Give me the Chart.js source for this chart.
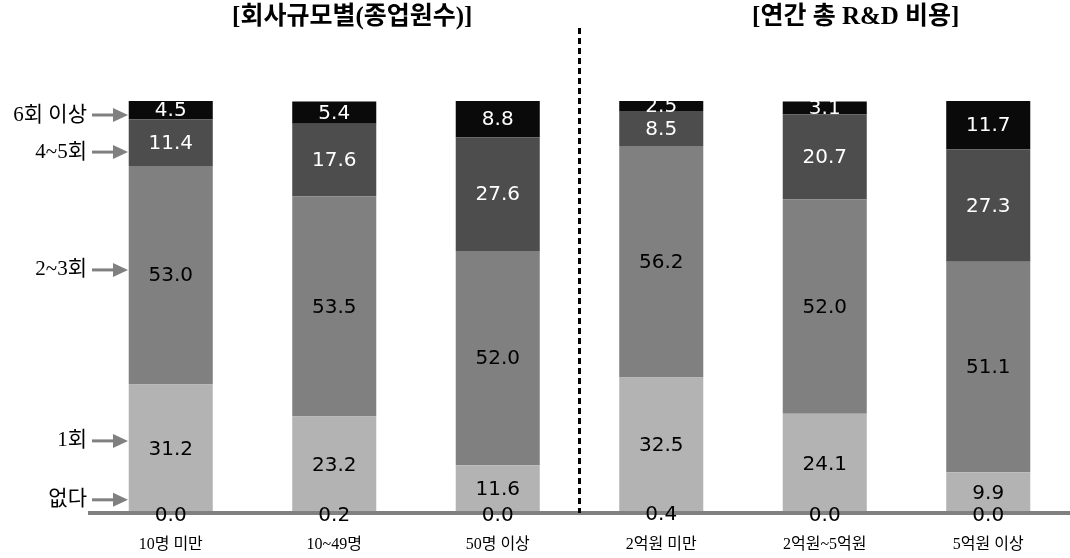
<!DOCTYPE html>
<html>
<head>
<meta charset="utf-8">
<script src="https://cdn.jsdelivr.net/npm/chart.js@4"></script>
<style>
  body { margin: 0; background: #fff; }
  #wrap { width: 1070px; height: 558px; }
</style>
</head>
<body>
<div id="wrap"><canvas id="chart" width="1070" height="558"></canvas></div>
<script>
// categories and series (percent)
const categories = ["10명 미만", "10~49명", "50명 이상", "2억원 미만", "2억원~5억원", "5억원 이상"];
const seriesNames = ["없다", "1회", "2~3회", "4~5회", "6회 이상"];
const none = [0.0, 0.2, 0.0, 0.4, 0.0, 0.0];
const once = [31.2, 23.2, 11.6, 32.5, 24.1, 9.9];
const twoThree = [53.0, 53.5, 52.0, 56.2, 52.0, 51.1];
const fourFive = [11.4, 17.6, 27.6, 8.5, 20.7, 27.3];
const sixPlus = [4.5, 5.4, 8.8, 2.5, 3.1, 11.7];
const groupTitles = ["[회사규모별(종업원수)]", "[연간 총 R&D 비용]"];

// where the left-hand legend arrows point (percent of bar height)
const legendLevels = [3.2, 17.5, 59.0, 87.6, 96.6];

const fills = ["#b3b3b3", "#b3b3b3", "#808080", "#4d4d4d", "#0a0a0a"];
const labelColors = ["#000", "#000", "#000", "#fff", "#fff"];
const allSeries = [none, once, twoThree, fourFive, sixPlus];

const serif = "'Liberation Serif', 'DejaVu Serif', 'Noto Sans CJK KR', serif";

// baseline, then value labels in the middle of each segment
const valueLabels = {
    id: "valueLabels",
    afterDatasetsDraw(chart) {
        const ctx = chart.ctx;
        const area = chart.chartArea;
        ctx.save();

        ctx.strokeStyle = "#808080";
        ctx.lineWidth = 4;
        ctx.beginPath();
        ctx.moveTo(area.left - 1, area.bottom);
        ctx.lineTo(area.right, area.bottom);
        ctx.stroke();

        ctx.beginPath();
        ctx.rect(0, area.top, chart.width, chart.height - area.top);
        ctx.clip();
        ctx.font = "20px 'DejaVu Sans', sans-serif";
        ctx.textAlign = "center";
        ctx.textBaseline = "middle";
        chart.data.datasets.forEach((ds, i) => {
            const meta = chart.getDatasetMeta(i);
            meta.data.forEach((bar, j) => {
                const y = (bar.y + bar.base) / 2;
                ctx.fillStyle = labelColors[i];
                ctx.fillText(ds.data[j].toFixed(1), bar.x, y + (i === 0 ? 3 : 1));
            });
        });
        ctx.restore();
    }
};

// titles, category names, dashed divider and the arrow legend on the left
const decorations = {
    id: "decorations",
    afterDraw(chart) {
        const ctx = chart.ctx;
        const x = chart.scales.x;
        const y = chart.scales.y;
        const area = chart.chartArea;
        ctx.save();

        // divider between the two groups
        const midX = (x.getPixelForValue(2) + x.getPixelForValue(3)) / 2;
        ctx.strokeStyle = "#000";
        ctx.lineWidth = 3;
        ctx.setLineDash([6, 4]);
        ctx.beginPath();
        ctx.moveTo(midX, 28);
        ctx.lineTo(midX, area.bottom);
        ctx.stroke();
        ctx.setLineDash([]);

        // category names
        ctx.fillStyle = "#000";
        ctx.font = "16px " + serif;
        ctx.textAlign = "center";
        ctx.textBaseline = "middle";
        categories.forEach((c, i) => {
            ctx.fillText(c, x.getPixelForValue(i), area.bottom + 32);
        });

        // group titles
        ctx.font = "bold 25px " + serif;
        ctx.fillText(groupTitles[0], x.getPixelForValue(1) + 18, 18);
        ctx.fillText(groupTitles[1], x.getPixelForValue(4) + 31, 18);

        // left legend with arrows
        ctx.font = "21px " + serif;
        ctx.textAlign = "right";
        legendLevels.forEach((lv, i) => {
            const py = y.getPixelForValue(lv);
            ctx.fillStyle = "#000";
            ctx.fillText(seriesNames[i], 87, py);
            ctx.strokeStyle = "#808080";
            ctx.fillStyle = "#808080";
            ctx.lineWidth = 3;
            ctx.beginPath();
            ctx.moveTo(92, py);
            ctx.lineTo(116, py);
            ctx.stroke();
            ctx.beginPath();
            ctx.moveTo(128, py);
            ctx.lineTo(113, py - 7);
            ctx.lineTo(113, py + 7);
            ctx.closePath();
            ctx.fill();
        });
        ctx.restore();
    }
};

const datasets = seriesNames.map((name, i) => ({
    label: name,
    data: allSeries[i],
    backgroundColor: fills[i],
    borderWidth: 0,
    barPercentage: 0.514,
    categoryPercentage: 1.0
}));

new Chart(document.getElementById("chart").getContext("2d"), {
    type: "bar",
    data: { labels: categories, datasets: datasets },
    options: {
        responsive: false,
        animation: false,
        layout: { padding: { top: 101, left: 89, right: 0, bottom: 45 } },
        plugins: {
            legend: { display: false },
            tooltip: { enabled: false }
        },
        scales: {
            x: {
                stacked: true,
                grid: { display: false, drawTicks: false },
                border: { display: false },
                ticks: { display: false }
            },
            y: {
                stacked: true,
                display: false,
                min: 0,
                max: 100
            }
        }
    },
    plugins: [valueLabels, decorations]
});
</script>
</body>
</html>
